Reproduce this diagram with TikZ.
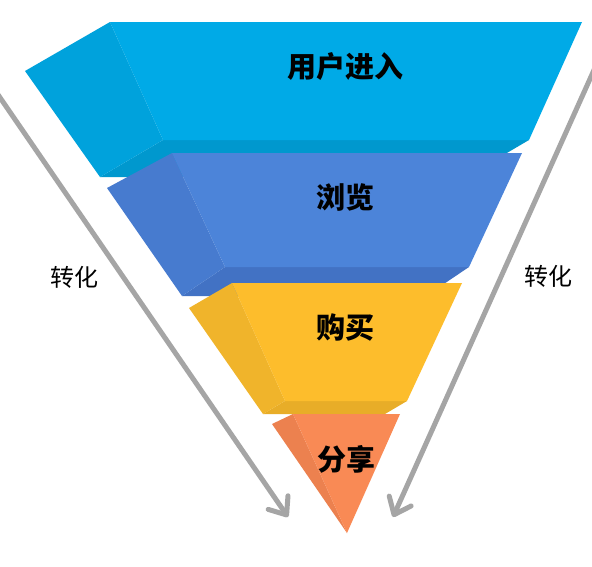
\documentclass[tikz,border=0pt]{standalone}
\usepackage{fontspec}
\newfontfamily\cjk{Noto Sans CJK SC}
\usetikzlibrary{arrows.meta}
\definecolor{cyanF}{HTML}{00AAE7}
\definecolor{cyanL}{HTML}{00A2DC}
\definecolor{cyanB}{HTML}{0098CE}
\definecolor{blueF}{HTML}{4C84D9}
\definecolor{blueL}{HTML}{477BCF}
\definecolor{blueB}{HTML}{4272C4}
\definecolor{yelF}{HTML}{FDBD2C}
\definecolor{yelL}{HTML}{F0B42B}
\definecolor{yelB}{HTML}{E8AD28}
\definecolor{orgF}{HTML}{F98A55}
\definecolor{orgL}{HTML}{EC814F}
\definecolor{arrowgray}{HTML}{A5A5A5}
\tikzset{
  lbl/.style={font=\cjk\bfseries\fontsize{29pt}{31pt}\selectfont, text=black, inner sep=0pt},
  sidelbl/.style={font=\cjk\fontsize{24pt}{26pt}\selectfont, text=black, inner sep=0pt},
  convarrow/.style={draw=arrowgray, line width=5pt, -{Straight Barb[length=15pt,width=24pt,round]}}
}
\begin{document}
\begin{tikzpicture}[x=1pt,y=-1pt]
\useasboundingbox (0,0) rectangle (592,566);
\clip (0,0) rectangle (592,566);
\fill[white] (0,0) rectangle (592,566);
% layer 1
\fill[cyanB] (163,140) -- (529,140) -- (466,177) -- (100,177) -- cycle;
\fill[cyanL] (25,71) -- (110,22) -- (163,140) -- (100,177) -- cycle;
\fill[cyanF] (110,22) -- (582,22) -- (529,140) -- (163,140) -- cycle;
% layer 2
\fill[blueB] (225,267) -- (469,267) -- (426,296) -- (182,296) -- cycle;
\fill[blueL] (107,188) -- (172,153) -- (225,267) -- (182,296) -- cycle;
\fill[blueF] (172,153) -- (522,153) -- (469,267) -- (225,267) -- cycle;
% layer 3
\fill[yelB] (285,401) -- (407,401) -- (385,414) -- (263,414) -- cycle;
\fill[yelL] (189,308) -- (232,283) -- (285,401) -- (263,414) -- cycle;
\fill[yelF] (232,283) -- (462,283) -- (407,401) -- (285,401) -- cycle;
% layer 4
\fill[orgL] (272,424) -- (293,414) -- (347,533) -- cycle;
\fill[orgF] (293,414) -- (400,414) -- (347,533) -- cycle;
% labels
\node[lbl] (t1) at (345,67) {用户进入};
\node[lbl] (t2) at (345,197) {浏览};
\node[lbl] (t3) at (345,327) {购买};
\node[lbl] (t4) at (346,459) {分享};
\node[sidelbl] (s1) at (74,277) {转化};
\node[sidelbl] (s2) at (548,276) {转化};
% arrows
\coordinate (la) at (-10,83);
\coordinate (lb) at (288,517);
\coordinate (ra) at (603,50);
\coordinate (rb) at (393,517);
\draw[convarrow] (la) -- (lb);
\draw[convarrow] (ra) -- (rb);
\end{tikzpicture}
\end{document}
